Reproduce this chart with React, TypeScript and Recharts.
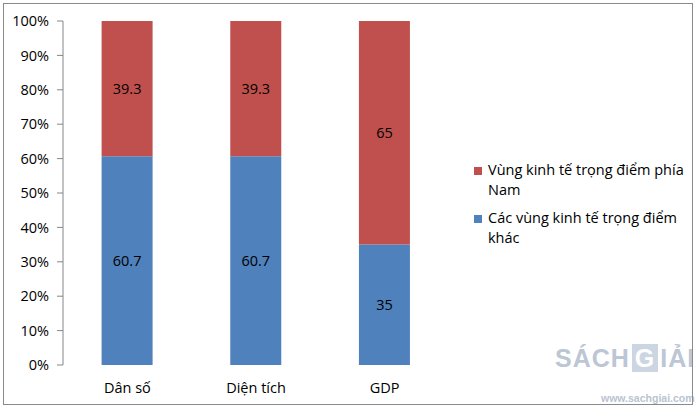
import React from 'react';
import { BarChart, Bar, XAxis, YAxis, LabelList } from 'recharts';

const categories = ['Dân số', 'Diện tích', 'GDP'];
const otherRegions = [60.7, 60.7, 35];
const southernRegion = [39.3, 39.3, 65];
const yTicks = [0, 10, 20, 30, 40, 50, 60, 70, 80, 90, 100];
const boundaryTicks = [0, 1, 2, 3];
const seriesNames = ['Vùng kinh tế trọng điểm phía Nam', 'Các vùng kinh tế trọng điểm khác'];
const RED = '#C0504D';
const BLUE = '#4F81BD';

const data = categories.map((c, i) => ({
  name: c,
  other: otherRegions[i],
  south: southernRegion[i],
}));

const FONT = '"Open Sans", sans-serif';
const AXIS = '#868686';
const FS = 14.5;

export default function App() {
  return (
    <div style={{ position: 'fixed', left: 0, top: 0, width: 699, height: 412, background: '#fff', fontFamily: FONT, overflow: 'hidden' }}>
      <div style={{ position: 'absolute', left: 555, top: 344, fontSize: 25, fontWeight: 700, color: '#bcc6d4', letterSpacing: 1, fontFamily: '"Liberation Sans", Arial, sans-serif', whiteSpace: 'nowrap' }}>
        SÁCH<span style={{ color: '#fff', background: '#ccd5e2', padding: '0 3px', margin: '0 2px' }}>G</span>IẢI
      </div>
      <div style={{ position: 'absolute', left: 601, top: 392, fontSize: 10.5, fontWeight: 700, color: '#b9c3d2', fontFamily: '"Liberation Sans", Arial, sans-serif', whiteSpace: 'nowrap' }}>
        www.sachgiai.com
      </div>
      <div style={{ position: 'absolute', left: 3, top: 3, width: 688, height: 400, border: '1.5px solid #8a8a8a' }} />
      <div style={{ position: 'absolute', left: 0, top: 0 }}>
        <BarChart
          width={699}
          height={412}
          data={data}
          margin={{ top: 21, right: 250, bottom: 17, left: 0 }}
          barCategoryGap="30%"
        >
          <XAxis
            xAxisId="num"
            type="number"
            domain={[0, 3]}
            ticks={boundaryTicks}
            tickFormatter={() => ''}
            height={0}
            stroke={AXIS}
            tickSize={6}
            allowDataOverflow
          />
          <XAxis
            xAxisId="cat"
            dataKey="name"
            axisLine={false}
            tickLine={false}
            height={30}
            tickMargin={12}
            tick={{ fill: '#000', fontSize: FS, fontFamily: FONT }}
          />
          <YAxis
            domain={[0, 100]}
            ticks={yTicks}
            tickFormatter={(v) => `${v}%`}
            width={63}
            stroke={AXIS}
            tickSize={6}
            tickMargin={8}
            interval={0}
            tick={{ fill: '#000', fontSize: FS, fontFamily: FONT }}
          />
          <Bar xAxisId="cat" dataKey="other" stackId="a" fill={BLUE} isAnimationActive={false}>
            <LabelList dataKey="other" position="center" fill="#000" fontSize={FS} fontFamily={FONT} />
          </Bar>
          <Bar xAxisId="cat" dataKey="south" stackId="a" fill={RED} isAnimationActive={false}>
            <LabelList dataKey="south" position="center" fill="#000" fontSize={FS} fontFamily={FONT} />
          </Bar>
        </BarChart>
      </div>
      <div style={{ position: 'absolute', left: 474, top: 160, width: 212, fontSize: FS, lineHeight: '20px', color: '#000' }}>
        {[{ name: seriesNames[0], color: RED }, { name: seriesNames[1], color: BLUE }].map((e, i) => (
          <div key={i} style={{ position: 'relative', paddingLeft: 14, marginBottom: i === 0 ? 8 : 0 }}>
            <span style={{ position: 'absolute', left: 0, top: 7, width: 8, height: 8, background: e.color }} />
            {e.name}
          </div>
        ))}
      </div>
    </div>
  );
}
